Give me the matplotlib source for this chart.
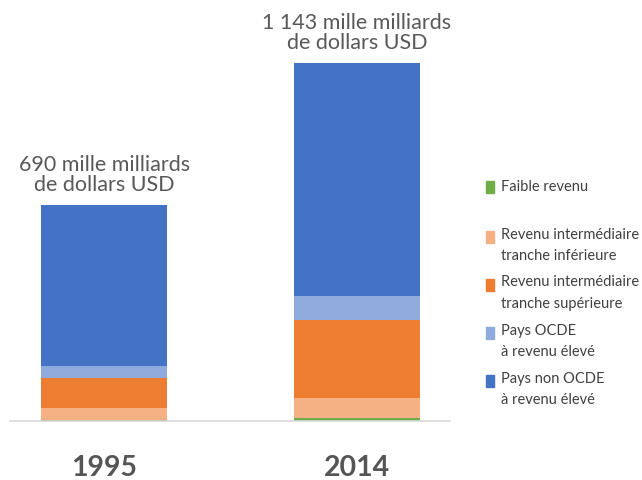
import matplotlib
matplotlib.use("Agg")
import matplotlib.pyplot as plt
from matplotlib.patches import Rectangle
import numpy as np

years = ["1995", "2014"]
totals = [690, 1143]
total_labels = ["690 mille milliards\nde dollars USD", "1 143 mille milliards\nde dollars USD"]
series_names = [
    "Faible revenu",
    "Revenu intermédiaire\ntranche inférieure",
    "Revenu intermédiaire\ntranche supérieure",
    "Pays OCDE\nà revenu élevé",
    "Pays non OCDE\nà revenu élevé",
]
faible = [2, 8]
inter_inf = [38, 66]
inter_sup = [96, 248]
ocde = [41, 78]
non_ocde = [513, 743]
colors = ["#70AD47", "#F4B183", "#ED7D31", "#8FAADC", "#4472C4"]

series = [faible, inter_inf, inter_sup, ocde, non_ocde]

plt.rcParams["font.family"] = ["Lato", "DejaVu Sans"]
W, H = 642, 480
fig = plt.figure(figsize=(W / 100, H / 100), dpi=100)
ax = fig.add_axes([10 / W, (H - 421) / H, 440 / W, 421 / H])

x = np.arange(len(years))
bottom = np.zeros(len(years))
for vals, c in zip(series, colors):
    ax.bar(x, vals, width=0.5, bottom=bottom, color=c, edgecolor="none")
    bottom += np.array(vals)

ax.set_xlim(-0.372, 1.368)
ax.set_ylim(0, 421 * 1143 / 358)
for s in ["top", "right", "left"]:
    ax.spines[s].set_visible(False)
ax.spines["bottom"].set_color("#D9D9D9")
ax.spines["bottom"].set_linewidth(1.2)
ax.set_yticks([])
ax.set_xticks([])

for xi, tot, lab in zip(x, totals, total_labels):
    ax.annotate(lab, (xi, tot), xytext=(0, 7), textcoords="offset points",
                ha="center", va="bottom", fontsize=15.5, color="#595959",
                linespacing=1.0)

# year labels under each bar
for xi, yr in zip(x, years):
    xf = fig.transFigure.inverted().transform(ax.transData.transform((xi, 0)))[0]
    fig.text(xf, 4 / H, yr, ha="center", va="baseline", fontsize=20.5,
             fontweight="bold", color="#555555")

# legend, drawn in figure pixels
legend_y = [187, 247, 295, 343, 391]
for name, c, ly in zip(series_names, colors, legend_y):
    nlines = name.count("\n") + 1
    top = ly - (nlines - 1) * 10.5
    fig.patches.append(Rectangle((486 / W, (H - top - 6) / H), 8 / W, 12 / H,
                                 transform=fig.transFigure, color=c))
    if nlines == 1:
        fig.text(501 / W, (H - top) / H, name, ha="left", va="center",
                 fontsize=10.5, color="#404040")
    else:
        fig.text(501 / W, (H - top + 9) / H, name, ha="left", va="top",
                 fontsize=10.5, color="#404040", linespacing=1.72)

fig.savefig("out.png", dpi=100, facecolor="white")
